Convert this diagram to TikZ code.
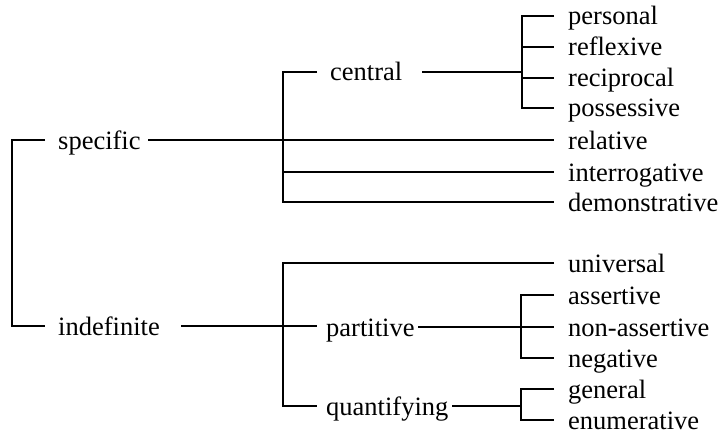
\documentclass[tikz,border=0pt]{standalone}
\usepackage{fontspec}
\setmainfont{Liberation Serif}
\begin{document}
\begin{tikzpicture}[x=1pt,y=-1pt,
  lbl/.style={anchor=base west, inner sep=0pt, font=\fontsize{26.5}{30}\selectfont},
  ln/.style={line width=1.8pt}]
\useasboundingbox (0,0) rectangle (723,436);
% category labels
\node[lbl] (specific) at (58,149) {specific};
\node[lbl] (indefinite) at (58,335) {indefinite};
\node[lbl] (central) at (330,81) {central};
\node[lbl] (partitive) at (326,336) {partitive};
\node[lbl] (quantifying) at (326,415) {quantifying};
% leaves
\node[lbl] (personal) at (568,25) {personal};
\node[lbl] (reflexive) at (568,56) {reflexive};
\node[lbl] (reciprocal) at (568,87) {reciprocal};
\node[lbl] (possessive) at (568,117) {possessive};
\node[lbl] (relative) at (568,149) {relative};
\node[lbl] (interrogative) at (568,181) {interrogative};
\node[lbl] (demonstrative) at (568,211) {demonstrative};
\node[lbl] (universal) at (568,272) {universal};
\node[lbl] (assertive) at (568,304) {assertive};
\node[lbl] (nonassertive) at (568,336) {non-assertive};
\node[lbl] (negative) at (568,367) {negative};
\node[lbl] (general) at (568,398) {general};
\node[lbl] (enumerative) at (568,429) {enumerative};
% junction coordinates
\coordinate (r1) at (12,140);
\coordinate (r2) at (12,326);
\coordinate (s1) at (283,72);
\coordinate (s2) at (283,172);
\coordinate (s3) at (283,202);
\coordinate (i1) at (283,263);
\coordinate (i2) at (283,406);
\coordinate (c1) at (522,16);
\coordinate (c2) at (522,47);
\coordinate (c3) at (522,72);
\coordinate (c4) at (522,78);
\coordinate (c5) at (522,108);
\coordinate (p1) at (521,295);
\coordinate (p2) at (521,327);
\coordinate (p3) at (521,358);
\coordinate (q1) at (521,389);
\coordinate (q2) at (521,406);
\coordinate (q3) at (521,420);
% left bracket
\draw[ln] ([xshift=-13pt,yshift=9pt]specific.base west) -- (r1) -- (r2) -- ([xshift=-13pt,yshift=9pt]indefinite.base west);
% specific
\draw[ln] (148,140) -- ([xshift=-14pt,yshift=9pt]relative.base west);
\draw[ln] ([xshift=-13pt,yshift=9pt]central.base west) -- (s1) -- (s3) -- ([xshift=-14pt,yshift=9pt]demonstrative.base west);
\draw[ln] (s2) -- ([xshift=-14pt,yshift=9pt]interrogative.base west);
% central
\draw[ln] (422,72) -- (c3);
\draw[ln] ([xshift=-14pt,yshift=9pt]personal.base west) -- (c1) -- (c5) -- ([xshift=-14pt,yshift=9pt]possessive.base west);
\draw[ln] (c2) -- ([xshift=-14pt,yshift=9pt]reflexive.base west);
\draw[ln] (c4) -- ([xshift=-14pt,yshift=9pt]reciprocal.base west);
% indefinite
\draw[ln] (181,326) -- ([xshift=-9pt,yshift=10pt]partitive.base west);
\draw[ln] ([xshift=-14pt,yshift=9pt]universal.base west) -- (i1) -- (i2) -- ([xshift=-9pt,yshift=9pt]quantifying.base west);
% partitive
\draw[ln] (418,327) -- (p2);
\draw[ln] ([xshift=-14pt,yshift=9pt]assertive.base west) -- (p1) -- (p3) -- ([xshift=-14pt,yshift=9pt]negative.base west);
\draw[ln] (p2) -- ([xshift=-14pt,yshift=9pt]nonassertive.base west);
% quantifying
\draw[ln] (452,406) -- (q2);
\draw[ln] ([xshift=-14pt,yshift=9pt]general.base west) -- (q1) -- (q3) -- ([xshift=-14pt,yshift=9pt]enumerative.base west);
\end{tikzpicture}
\end{document}
